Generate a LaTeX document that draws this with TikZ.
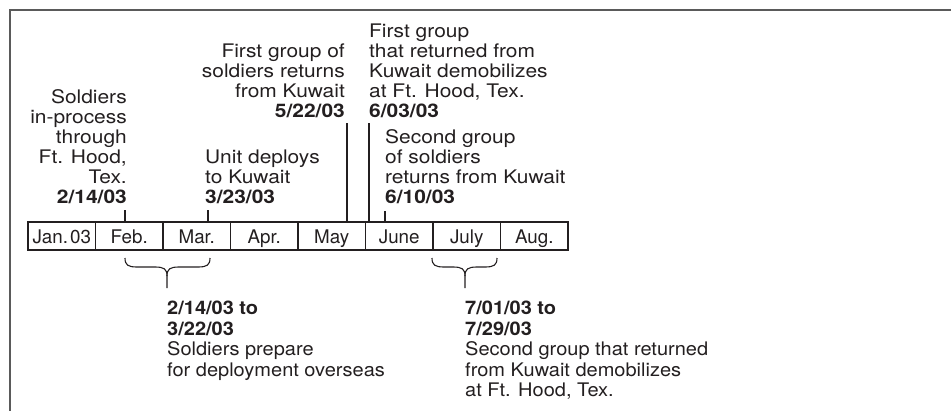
\documentclass[tikz,border=0pt]{standalone}
\usepackage{fontspec}
\setmainfont{TeX Gyre Heros}
\newfontfamily\topfont[FakeStretch=1.12]{TeX Gyre Heros}
\newfontfamily\botfont[FakeStretch=1.07]{TeX Gyre Heros}
\definecolor{ink}{HTML}{231F20}
\definecolor{framec}{HTML}{5A5A5A}
\tikzset{
  txt/.style={inner sep=0pt, text=ink, font=\topfont\fontsize{18.7}{20}\selectfont},
  btxt/.style={inner sep=0pt, text=ink, font=\botfont\fontsize{18.7}{20.5}\selectfont},
  cell/.style={draw=ink, line width=1.1pt, minimum width=67.5pt, minimum height=28pt, inner sep=0pt,
    text height=18pt, text depth=4pt, text=ink, font=\fontsize{18.8}{20}\selectfont},
  tick/.style={draw=ink, line width=1.1pt},
  brc/.style={draw=ink, line width=1.1pt},
  framel/.style={draw=framec, line width=1.8pt}
}
\begin{document}
\begin{tikzpicture}[x=1pt,y=-1pt]
\useasboundingbox (0,0) rectangle (951,410);
% frame (top and left edges)
\coordinate (fbl) at (10,411);
\coordinate (ftl) at (10,10);
\coordinate (ftr) at (952,10);
\draw[framel] (fbl) -- (ftl) -- (ftr);

% timeline cells
\node[cell] (jan) at (61.75,236) {Jan.\kern2pt03};
\node[cell] (feb) at (129.25,236) {Feb.};
\node[cell] (mar) at (196.75,236) {Mar.};
\node[cell] (apr) at (264.25,236) {Apr.};
\node[cell] (may) at (331.75,236) {May};
\node[cell] (jun) at (399.25,236) {June};
\node[cell] (jul) at (466.75,236) {July};
\node[cell] (aug) at (534.25,236) {Aug.};

% upper labels
\node[txt, anchor=south east, align=right] (l1) at (127,204)
  {Soldiers\\in-process\\through\\Ft. Hood,\\Tex.\hspace*{10pt}\\\textbf{2/14/03}};
\node[txt, anchor=south west, align=left] (l2) at (205,204)
  {Unit deploys\\to Kuwait\\\textbf{3/23/03}};
\node[txt, anchor=south east, align=right] (l3) at (345,118)
  {First group of\\soldiers returns\\from Kuwait\hspace*{7pt}\\\textbf{5/22/03}};
\node[txt, anchor=south west, align=left] (l4) at (369,118)
  {First group\\that returned from\\Kuwait demobilizes\\at Ft. Hood, Tex.\\\textbf{6/03/03}};
\node[txt, anchor=south west, align=left] (l5) at (385,204)
  {Second group\\of soldiers\\returns from Kuwait\\\textbf{6/10/03}};

% tick lines
\coordinate (t1) at (125,210);
\coordinate (t2) at (208,210);
\coordinate (t3) at (347,123);
\coordinate (t4) at (369,123);
\coordinate (t5) at (385,211);
\draw[tick] (t1) -- (t1 |- feb.north);
\draw[tick] (t2) -- (t2 |- mar.north);
\draw[tick] (t3) -- (t3 |- may.north);
\draw[tick] (t4) -- (t4 |- jun.north);
\draw[tick] (t5) -- (t5 |- jun.north);

% braces
\draw[brc] (125,258) .. controls (125,265) and (128,267) .. (137,267) -- (155,267)
  .. controls (164,267) and (167,269) .. (167,276) -- (167,288);
\draw[brc] (210,258) .. controls (210,265) and (207,267) .. (198,267) -- (179,267)
  .. controls (170,267) and (167,269) .. (167,276);
\draw[brc] (432,258) .. controls (432,265) and (435,267) .. (444,267) -- (453,267)
  .. controls (462,267) and (465,269) .. (465,276) -- (465,288);
\draw[brc] (497,258) .. controls (497,265) and (494,267) .. (485,267) -- (477,267)
  .. controls (468,267) and (465,269) .. (465,276);

% lower labels
\node[btxt, anchor=north west, align=left] (b1) at (167,301)
  {\textbf{2/14/03 to}\\\textbf{3/22/03}\\Soldiers prepare\\for deployment overseas};
\node[btxt, anchor=north west, align=left] (b2) at (465,301)
  {\textbf{7/01/03 to}\\\textbf{7/29/03}\\Second group that returned\\from Kuwait demobilizes\\at Ft. Hood, Tex.};
\end{tikzpicture}
\end{document}
